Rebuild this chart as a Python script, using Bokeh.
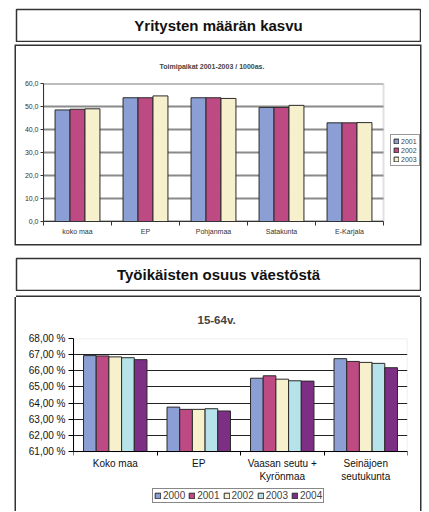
from bokeh.plotting import figure
from bokeh.models import (ColumnDataSource, FixedTicker, Legend, LegendItem,
                          Label, Range1d, BoxAnnotation)
from bokeh.transform import dodge
from bokeh.embed import file_html
from bokeh.resources import INLINE

# ---------------- data ----------------
title1 = "Yritysten määrän kasvu"
subtitle1 = "Toimipaikat 2001-2003 / 1000as."
cats1 = ["koko maa", "EP", "Pohjanmaa", "Satakunta", "E-Karjala"]
years1 = ["2001", "2002", "2003"]
v2001 = [48.5, 53.8, 53.8, 49.6, 42.9]
v2002 = [48.8, 53.8, 53.8, 49.6, 42.9]
v2003 = [49.0, 54.6, 53.5, 50.5, 43.0]
yticks1 = [0, 10, 20, 30, 40, 50, 60]

title2 = "Työikäisten osuus väestöstä"
subtitle2 = "15-64v."
cats2 = ["Koko maa", "EP", "Vaasan seutu +\nKyrönmaa", "Seinäjoen\nseutukunta"]
years2 = ["2000", "2001", "2002", "2003", "2004"]
s2000 = [66.94, 63.75, 65.54, 66.75]
s2001 = [66.92, 63.61, 65.69, 66.58]
s2002 = [66.86, 63.61, 65.48, 66.52]
s2003 = [66.81, 63.65, 65.38, 66.46]
s2004 = [66.69, 63.51, 65.36, 66.19]
yticks2 = [61, 62, 63, 64, 65, 66, 67, 68]

colors1 = ["#8c9fd4", "#bd4a82", "#f7f0cc"]
colors2 = ["#8c9fd4", "#bd4a82", "#f7f0cc", "#b6e3ea", "#7d2f85"]

FONT = "Liberation Sans"
BOX = "#333333"
RING = {"box-shadow": "0 0 0 1.5px #333333"}
RING3 = {"box-shadow": "-1.5px 0 0 0 #333333, 1.5px 0 0 0 #333333, 0 -1.5px 0 0 #333333"}

# layout sizes (pixels)
C1_PLOT_W, C1_FRAME_W = 340, 377      # plot area vs frame incl. legend strip
C2_PLOT_H, C2_FRAME_H = 113, 173      # plot area vs frame incl. label/legend strip


def title_fig(text, mtop):
    p = figure(width=406, height=34, x_range=Range1d(0, 1), y_range=Range1d(0, 1),
               x_axis_type=None, y_axis_type=None, output_backend="svg",
               toolbar_location=None, min_border_left=1, min_border_right=1,
               min_border_top=1, min_border_bottom=1, margin=(mtop, 0, 0, 15))
    p.grid.visible = False
    p.outline_line_color = BOX
    p.outline_line_width = 1.5
    p.add_layout(Label(x=0.5, y=0.5, text=text, text_align="center",
                       text_baseline="middle", text_font=FONT,
                       text_font_style="bold", text_font_size="15px",
                       text_color="#111111"))
    return p


# ---------------- title 1 ----------------
t1 = title_fig(title1, 8)

# ---------------- chart 1 ----------------
n1 = len(cats1)
centers1 = [i + 0.5 for i in range(n1)]
src1 = ColumnDataSource(dict(x=centers1, y2001=v2001, y2002=v2002, y2003=v2003))
c1 = figure(width=404, height=198, x_range=Range1d(0, n1 * C1_FRAME_W / C1_PLOT_W),
            y_range=Range1d(yticks1[0], yticks1[-1]),
            output_backend="svg", toolbar_location=None,
            min_border_left=27, min_border_right=0, min_border_top=37,
            min_border_bottom=23, title=subtitle1, margin=(4, 0, 0, 16),
            styles=RING)
c1.add_layout(BoxAnnotation(left=0, right=n1, bottom=yticks1[0], top=yticks1[-1],
                            fill_alpha=0, line_color="#9a9a9a", line_width=2,
                            level="underlay"))
c1.segment(x0=0, x1=n1, y0=yticks1, y1=yticks1, line_color="#8a8a8a", line_width=2)
bw1 = 0.22
rs1 = []
for k, (yr, col) in enumerate(zip(years1, colors1)):
    r = c1.vbar(x=dodge("x", (k - 1) * bw1), top="y" + yr, bottom=yticks1[0],
                width=bw1, source=src1, fill_color=col, line_color="#2a2a2a",
                line_width=1)
    rs1.append(r)

c1.title.align = "left"
c1.title.padding = 14
c1.title.offset = 102
c1.title.standoff = 0
c1.title.text_font = FONT
c1.title.text_font_size = "7px"
c1.title.text_font_style = "bold"

c1.grid.visible = False
c1.outline_line_color = None

xa = c1.xaxis[0]
xa.bounds = (0, n1)
xa.ticker = FixedTicker(ticks=centers1, minor_ticks=list(range(n1 + 1)))
xa.major_label_overrides = {c: name for c, name in zip(centers1, cats1)}
xa.major_tick_line_color = None
xa.major_tick_out = 0
xa.major_tick_in = 0
xa.minor_tick_out = 4
xa.minor_tick_in = 0
xa.minor_tick_line_color = "#333333"
xa.axis_line_color = "#333333"
xa.major_label_text_font = FONT
xa.major_label_text_font_size = "7px"
xa.major_label_text_color = "#333333"
xa.major_label_standoff = 2

ya = c1.yaxis[0]
ya.ticker = FixedTicker(ticks=yticks1)
ya.major_label_overrides = {t: f"{t},0" for t in yticks1}
ya.major_tick_out = 3
ya.major_tick_in = 0
ya.minor_tick_line_color = None
ya.axis_line_color = "#333333"
ya.major_tick_line_color = "#333333"
ya.major_label_text_font = FONT
ya.major_label_text_font_size = "7px"
ya.major_label_text_color = "#333333"
ya.major_label_standoff = 2

leg1 = Legend(items=[LegendItem(label=yr, renderers=[r]) for yr, r in zip(years1, rs1)],
              location=(347, 55), orientation="vertical", glyph_width=6,
              glyph_height=6, label_width=10, label_height=8, label_standoff=2,
              spacing=1, padding=2, margin=0, label_text_font=FONT,
              label_text_font_size="7px", border_line_color="#333333",
              border_line_width=1, background_fill_color="white")
c1.add_layout(leg1, "center")

# ---------------- title 2 ----------------
t2 = title_fig(title2, 13)

# ---------------- chart 2 ----------------
n2 = len(cats2)
centers2 = [i + 0.5 for i in range(n2)]
src2 = ColumnDataSource(dict(x=centers2, y2000=s2000, y2001=s2001, y2002=s2002,
                             y2003=s2003, y2004=s2004))
span2 = yticks2[-1] - yticks2[0]
c2 = figure(width=404, height=214, x_range=Range1d(0, n2),
            y_range=Range1d(yticks2[-1] - span2 * C2_FRAME_H / C2_PLOT_H, yticks2[-1]),
            output_backend="svg", toolbar_location=None,
            min_border_left=57, min_border_right=13, min_border_top=41,
            min_border_bottom=0, title=subtitle2, margin=(6, 0, 0, 16),
            styles=RING3)
c2.add_layout(BoxAnnotation(left=0, right=n2, bottom=yticks2[0], top=yticks2[-1],
                            fill_alpha=0, line_color="#b4b4b4", line_width=1.5,
                            level="underlay"))
bw2 = 0.152
rs2 = []
for k, (yr, col) in enumerate(zip(years2, colors2)):
    r = c2.vbar(x=dodge("x", (k - 2) * bw2), top="y" + yr, bottom=yticks2[0],
                width=bw2, source=src2, fill_color=col, line_color="#2a2a2a",
                line_width=1)
    rs2.append(r)

c2.title.align = "left"
c2.title.padding = 13
c2.title.offset = 111
c2.title.standoff = 0
c2.title.text_font = FONT
c2.title.text_font_size = "11.5px"
c2.title.text_font_style = "bold"

c2.xgrid.visible = False
c2.ygrid.grid_line_color = "#222222"
c2.ygrid.grid_line_width = 1
c2.outline_line_color = None

xb = c2.xaxis[0]
xb.fixed_location = yticks2[0]
xb.ticker = FixedTicker(ticks=centers2, minor_ticks=list(range(n2 + 1)))
xb.major_label_overrides = {c: name for c, name in zip(centers2, cats2)}
xb.major_tick_line_color = None
xb.major_tick_out = 0
xb.major_tick_in = 0
xb.minor_tick_out = 4
xb.minor_tick_in = 0
xb.minor_tick_line_color = "#000000"
xb.axis_line_color = "#000000"
xb.major_label_text_font = FONT
xb.major_label_text_font_size = "10px"
xb.major_label_text_color = "#111111"
xb.major_label_standoff = 2

yb = c2.yaxis[0]
yb.bounds = (yticks2[0], yticks2[-1])
yb.ticker = FixedTicker(ticks=yticks2)
yb.major_label_overrides = {t: f"{t},00 %" for t in yticks2}
yb.major_tick_out = 5
yb.major_tick_in = 0
yb.minor_tick_line_color = None
yb.axis_line_color = "#000000"
yb.major_tick_line_color = "#000000"
yb.major_label_text_font = FONT
yb.major_label_text_font_size = "10px"
yb.major_label_text_color = "#111111"
yb.major_label_standoff = 3

leg2 = Legend(items=[LegendItem(label=yr, renderers=[r]) for yr, r in zip(years2, rs2)],
              location=(79, 8), orientation="horizontal", glyph_width=7,
              glyph_height=7, label_width=10, label_height=10, label_standoff=2,
              spacing=3, padding=1, margin=0, label_text_font=FONT,
              label_text_font_size="10px", border_line_color="#111111",
              border_line_width=1, background_fill_color="white")
c2.add_layout(leg2, "center")

open("out.html", "w").write(file_html([t1, c1, t2, c2], INLINE))
